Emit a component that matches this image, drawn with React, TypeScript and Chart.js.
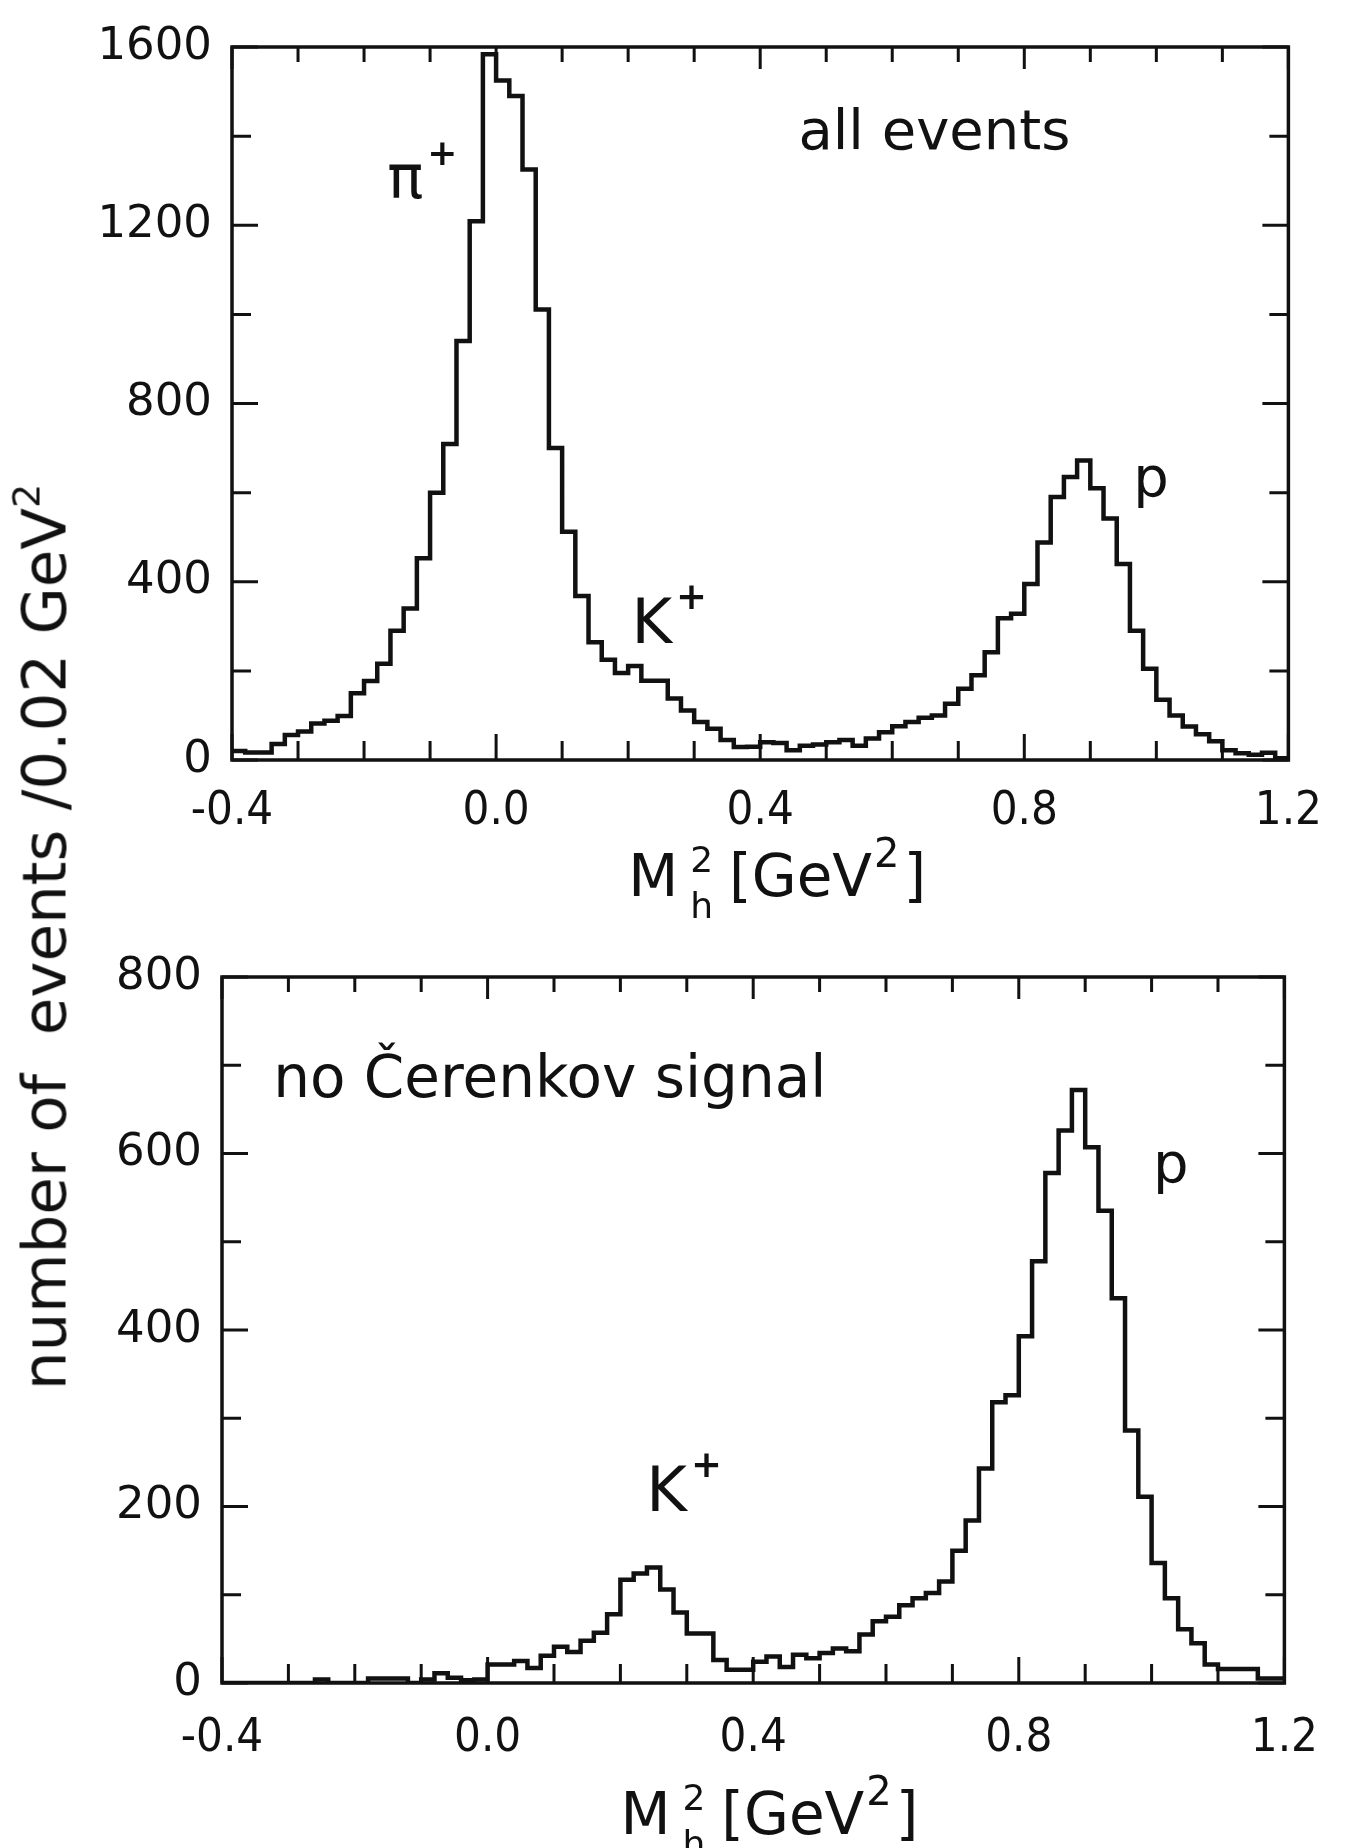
import React, { useEffect, useRef } from "react";
import { Chart, registerables } from "chart.js";

Chart.register(...registerables);

// ---------------- data ----------------
const BIN_START = -0.4; // GeV^2, lower edge of first bin
const BIN_WIDTH = 0.02; // GeV^2

// number of events per 0.02 GeV^2 bin, M_h^2 from -0.4 to 1.2 (80 bins)
const allEventsCounts = [
  20, 17, 17, 36, 56, 64, 82, 88, 99, 150,
  177, 216, 290, 340, 453, 600, 709, 940, 1209, 1584,
  1525, 1490, 1325, 1011, 700, 512, 368, 264, 225, 195,
  211, 178, 178, 138, 111, 85, 70, 45, 29, 30,
  40, 38, 22, 32, 35, 40, 45, 32, 48, 62,
  76, 85, 95, 100, 126, 160, 190, 242, 318, 328,
  395, 488, 590, 635, 672, 610, 542, 440, 290, 205,
  135, 100, 75, 58, 42, 22, 15, 12, 16, 4,
];

const noCerenkovCounts = [
  0, 0, 0, 0, 0, 0, 0, 4, 0, 0,
  0, 5, 5, 5, 0, 4, 11, 6, 3, 4,
  21, 21, 25, 17, 31, 41, 35, 48, 57, 78,
  117, 124, 131, 106, 80, 56, 56, 26, 15, 15,
  24, 30, 18, 32, 28, 34, 39, 36, 55, 70,
  75, 88, 96, 102, 115, 150, 184, 243, 318, 326,
  393, 478, 578, 626, 672, 607, 535, 436, 286, 211,
  136, 96, 61, 45, 21, 16, 16, 16, 5, 5,
];

const xTickLabels = [-0.4, 0.0, 0.4, 0.8, 1.2];
const xMinorTicks = [-0.3, -0.2, -0.1, 0.1, 0.2, 0.3, 0.5, 0.6, 0.7, 0.9, 1.0, 1.1];

const topYTickLabels = [0, 400, 800, 1200, 1600];
const topYMinorTicks = [200, 600, 1000, 1400];
const bottomYTickLabels = [0, 200, 400, 600, 800];
const bottomYMinorTicks = [100, 300, 500, 700];

type Note = { text: string; sup?: string; x: number; y: number; size: number };

const topNotes: Note[] = [
  { text: "\u03c0", sup: "+", x: -0.165, y: 1262, size: 60 },
  { text: "all events", x: 0.458, y: 1370, size: 56 },
  { text: "K", sup: "+", x: 0.205, y: 262, size: 62 },
  { text: "p", x: 0.965, y: 593, size: 56 },
];

const bottomNotes: Note[] = [
  { text: "no \u010cerenkov signal", x: -0.323, y: 664, size: 58 },
  { text: "K", sup: "+", x: 0.239, y: 195, size: 62 },
  { text: "p", x: 1.002, y: 568, size: 56 },
];

// ---------------- styling ----------------
const INK = "#111";
const SANS = '"DejaVu Sans", "Liberation Sans", sans-serif';
const NARROW = '"Liberation Sans Narrow", "DejaVu Sans Condensed", "Roboto Condensed", "DejaVu Sans", sans-serif';

type PanelProps = {
  counts: number[];
  yMax: number;
  yLabels: number[];
  yMinor: number[];
  notes: Note[];
  top: number;
  height: number;
  chartTop: number;
  chartBottom: number;
  chartLeft: number;
  chartRight: number;
  xTickPad: number;
  titleX: number;
  titleOffset: number;
};

const WIDTH = 1346;

function HistPanel(p: PanelProps) {
  const ref = useRef<HTMLCanvasElement | null>(null);

  useEffect(() => {
    const canvas = ref.current;
    if (!canvas) return;

    const points = p.counts.map((c, i) => ({ x: BIN_START + i * BIN_WIDTH, y: c }));
    points.push({ x: BIN_START + p.counts.length * BIN_WIDTH, y: p.counts[p.counts.length - 1] });

    const framePlugin = {
      id: "frameAndNotes",
      afterDraw(chart: any) {
        const { ctx, chartArea: a, scales } = chart;
        const xs = scales.x;
        const ys = scales.y;
        ctx.save();
        ctx.strokeStyle = INK;
        ctx.fillStyle = INK;
        ctx.lineCap = "butt";

        // frame
        ctx.lineWidth = 3.5;
        ctx.strokeRect(a.left, a.top, a.right - a.left, a.bottom - a.top);

        // inward ticks on all four sides
        const MAJ = 26;
        const MIN = 19;
        ctx.lineWidth = 3;
        ctx.beginPath();
        const xt = (v: number, len: number) => {
          const px = xs.getPixelForValue(v);
          ctx.moveTo(px, a.bottom);
          ctx.lineTo(px, a.bottom - len);
          ctx.moveTo(px, a.top);
          ctx.lineTo(px, a.top + len - 4);
        };
        const yt = (v: number, len: number) => {
          const py = ys.getPixelForValue(v);
          ctx.moveTo(a.left, py);
          ctx.lineTo(a.left + len, py);
          ctx.moveTo(a.right, py);
          ctx.lineTo(a.right - len, py);
        };
        xTickLabels.forEach((v) => xt(v, MAJ));
        xMinorTicks.forEach((v) => xt(v, MIN));
        p.yLabels.forEach((v) => yt(v, MAJ));
        p.yMinor.forEach((v) => yt(v, MIN));
        ctx.stroke();

        // annotations
        ctx.textBaseline = "alphabetic";
        ctx.textAlign = "left";
        for (const n of p.notes) {
          const px = xs.getPixelForValue(n.x);
          const py = ys.getPixelForValue(n.y);
          ctx.font = `${n.size}px ${SANS}`;
          ctx.fillText(n.text, px, py);
          if (n.sup) {
            const w = ctx.measureText(n.text).width;
            ctx.font = `bold ${Math.round(n.size * 0.6)}px ${SANS}`;
            ctx.fillText(n.sup, px + w + 4, py - n.size * 0.55);
          }
        }

        // x-axis title: M_h^2 [GeV^2]
        const size = 58;
        const small = 36;
        let tx = xs.getPixelForValue(p.titleX);
        const ty = a.bottom + p.titleOffset;
        ctx.font = `${size}px ${SANS}`;
        ctx.fillText("M", tx, ty);
        tx += ctx.measureText("M").width + 12;
        ctx.font = `${small}px ${SANS}`;
        ctx.fillText("2", tx, ty - size * 0.42);
        ctx.fillText("h", tx, ty + size * 0.38);
        tx += Math.max(ctx.measureText("2").width, ctx.measureText("h").width) + 16;
        ctx.font = `${size}px ${SANS}`;
        ctx.fillText("[GeV", tx, ty);
        tx += ctx.measureText("[GeV").width + 2;
        ctx.font = `${small + 4}px ${SANS}`;
        ctx.fillText("2", tx, ty - size * 0.5);
        tx += ctx.measureText("2").width + 4;
        ctx.font = `${size}px ${SANS}`;
        ctx.fillText("]", tx, ty);

        ctx.restore();
      },
    };

    const chart = new Chart(canvas, {
      type: "line",
      data: {
        datasets: [
          {
            data: points,
            stepped: "before",
            borderColor: INK,
            borderWidth: 4.5,
            pointRadius: 0,
            fill: false,
            tension: 0,
          },
        ],
      },
      options: {
        animation: false,
        responsive: false,
        maintainAspectRatio: false,
        devicePixelRatio: 1,
        layout: {
          padding: {
            left: 0,
            top: p.chartTop,
            right: WIDTH - p.chartRight,
            bottom: 0,
          },
        },
        plugins: {
          legend: { display: false },
          tooltip: { enabled: false },
          title: { display: false },
        },
        scales: {
          x: {
            type: "linear",
            min: -0.4,
            max: 1.2,
            grid: { display: false, drawTicks: false },
            border: { display: false },
            afterBuildTicks: (s: any) => {
              s.ticks = xTickLabels.map((v) => ({ value: v }));
            },
            afterFit: (s: any) => {
              s.height = p.height - p.chartBottom;
            },
            ticks: {
              color: INK,
              padding: p.xTickPad,
              maxRotation: 0,
              autoSkip: false,
              font: { family: NARROW, size: 47 },
              callback: (v: any) => Number(v).toFixed(1),
            },
          },
          y: {
            type: "linear",
            min: 0,
            max: p.yMax,
            grid: { display: false, drawTicks: false },
            border: { display: false },
            afterBuildTicks: (s: any) => {
              s.ticks = p.yLabels.map((v) => ({ value: v }));
            },
            afterFit: (s: any) => {
              s.width = p.chartLeft;
            },
            ticks: {
              color: INK,
              padding: 20,
              autoSkip: false,
              font: { family: SANS, size: 45 },
              callback: (v: any) => String(v),
            },
          },
        },
      },
      plugins: [framePlugin],
    } as any);

    return () => chart.destroy();
  }, []);

  return (
    <canvas
      ref={ref}
      width={WIDTH}
      height={p.height}
      style={{ position: "absolute", left: 0, top: p.top, width: WIDTH, height: p.height, display: "block" }}
    />
  );
}

export default function App() {
  return (
    <div
      style={{
        position: "absolute",
        left: 0,
        top: 0,
        width: 1346,
        height: 1848,
        overflow: "hidden",
        background: "#fff",
      }}
    >
      <HistPanel
        counts={allEventsCounts}
        yMax={1600}
        yLabels={topYTickLabels}
        yMinor={topYMinorTicks}
        notes={topNotes}
        top={0}
        height={930}
        chartTop={37}
        chartBottom={760}
        chartLeft={232}
        chartRight={1293}
        xTickPad={24}
        titleX={0.2}
        titleOffset={136}
      />
      <HistPanel
        counts={noCerenkovCounts}
        yMax={800}
        yLabels={bottomYTickLabels}
        yMinor={bottomYMinorTicks}
        notes={bottomNotes}
        top={930}
        height={918}
        chartTop={39}
        chartBottom={753}
        chartLeft={222}
        chartRight={1285}
        xTickPad={28}
        titleX={0.2}
        titleOffset={151}
      />
      <div
        style={{
          position: "absolute",
          left: 44,
          top: 937,
          transform: "translate(-50%, -50%) rotate(-90deg)",
          whiteSpace: "nowrap",
          fontFamily: SANS,
          fontSize: 61,
          lineHeight: 1,
          color: INK,
        }}
      >
        number of&nbsp; events /0.02 GeV
        <span style={{ fontSize: 38, verticalAlign: "top", position: "relative", top: -6 }}>2</span>
      </div>
    </div>
  );
}
